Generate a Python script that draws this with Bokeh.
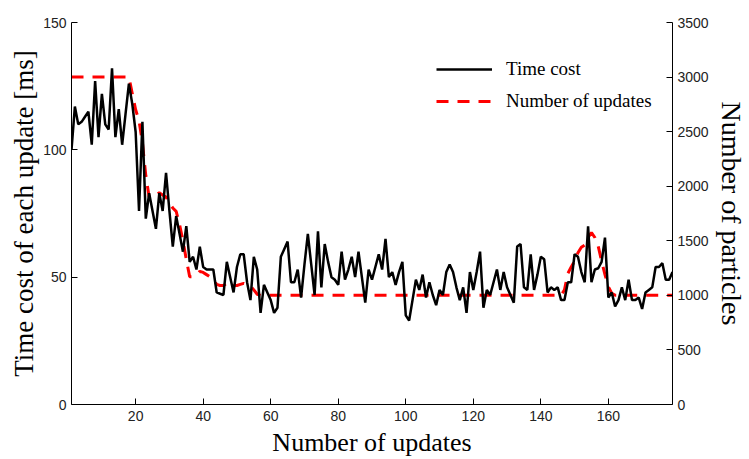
import math
from bokeh.plotting import figure
from bokeh.models import Range1d, LinearAxis, FixedTicker, Legend, LegendItem, Title
from bokeh.embed import file_html
from bokeh.resources import INLINE

updates = list(range(1, 180))

time_cost = [
    100, 117, 110, 111, 113, 115, 102, 127, 105, 122,
    110, 108, 132, 105, 116, 102, 114, 126, 118, 107,
    76, 111, 73, 83, 76, 69, 83, 76, 91, 76,
    62, 74, 67, 60, 70, 56, 58, 53, 62, 54,
    53, 53, 53, 44, 43.5, 43, 56, 50, 44, 54,
    59, 59, 48, 41, 58, 53, 36, 47, 44, 41,
    36, 38, 58, 61, 64, 48, 48, 53, 42, 55,
    67, 55, 43, 68, 46, 63, 56, 50, 49, 47,
    60, 49, 53, 58, 50, 60, 50, 40, 53, 49,
    54, 59, 53, 65, 50, 52, 47, 52, 56, 35,
    33, 41, 49, 45, 51, 42, 48, 43, 39, 45,
    43, 52, 55, 52, 46, 41, 46, 36, 52, 45,
    52, 60, 38, 45, 43, 48, 53, 45, 52, 46,
    43, 40, 62, 63, 46, 45, 59, 45, 51, 58,
    57, 44, 46, 45, 46, 41, 41, 48, 48, 59,
    58, 52, 48, 70, 48, 53, 53.5, 56, 65.5, 42,
    44, 38.5, 41, 46, 41, 49, 41, 41, 42, 37.5,
    44, 45, 46, 54, 54, 55.5, 49, 49, 52,
]

particles = [
    3000, 3000, 3000, 3000, 3000, 3000, 3000, 3000, 3000, 3000,
    3000, 3000, 3000, 3000, 3000, 3000, 3000, 3000, 2850, 2700,
    2600, 2400, 2100, 1900, 1900, 1920, 1940, 1920, 1900, 1850,
    1800, 1770, 1650, 1500, 1330, 1170, 1170, 1190, 1220, 1210,
    1190, 1170, 1150, 1100, 1090, 1090, 1110, 1124, 1090, 1090,
    1100, 1110, 1100, 1087, 1050, 1010, 1000, 1000, 1000, 1000,
    1000, 1000, 1000, 1000, 1000, 1000, 1000, 1000, 1000, 1000,
    1000, 1000, 1000, 1000, 1000, 1000, 1000, 1000, 1000, 1000,
    1000, 1000, 1000, 1000, 1000, 1000, 1000, 1000, 1000, 1000,
    1000, 1000, 1000, 1000, 1000, 1000, 1000, 1000, 1000, 1000,
    1000, 1000, 1000, 1000, 1000, 1000, 1000, 1000, 1000, 1000,
    1000, 1000, 1000, 1000, 1000, 1000, 1000, 1000, 1000, 1000,
    1000, 1000, 1000, 1000, 1000, 1000, 1000, 1000, 1000, 1000,
    1000, 1000, 1000, 1000, 1000, 1000, 1000, 1000, 1000, 1000,
    1000, 1000, 1000, 1000, 1000, 1000, 1050, 1200, 1260, 1315,
    1390, 1440, 1460, 1530, 1575, 1530, 1450, 1315, 1190, 1080,
    1020, 1000, 1000, 1000, 1000, 1000, 1000, 1000, 1000, 1000,
    1000, 1000, 1000, 1000, 1000, 1000, 1000, 1000, 1000,
]

x_ticks = [20, 40, 60, 80, 100, 120, 140, 160]
left_ticks = [0, 50, 100, 150]
right_ticks = [0, 500, 1000, 1500, 2000, 2500, 3000, 3500]

SERIF = "Liberation Serif"
SANS = "Liberation Sans"

p = figure(width=749, height=459, output_backend="svg", toolbar_location=None,
           x_range=Range1d(1, 179), y_range=Range1d(0, 150),
           min_border_left=71, min_border_right=74, min_border_top=22,
           min_border_bottom=53)
p.outline_line_color = None
p.grid.visible = False
p.background_fill_color = "white"
p.border_fill_color = "white"
p.extra_y_ranges = {"particles": Range1d(0, 3500)}

red = p.line(updates, particles, y_range_name="particles", line_color="#ff0000",
             line_width=3, line_dash="12 9")
black = p.line(updates, time_cost, line_color="black", line_width=2.5)

def style(ax, ticks):
    ax.ticker = FixedTicker(ticks=ticks)
    ax.minor_tick_line_color = None
    ax.major_tick_in = 6
    ax.major_tick_out = 0
    ax.axis_line_color = "black"
    ax.major_tick_line_color = "black"
    ax.major_label_text_font = SANS
    ax.major_label_text_font_size = "14px"
    ax.major_label_text_color = "#222222"
    ax.axis_label_text_font = SERIF
    ax.axis_label_text_font_style = "normal"
    ax.axis_label_text_color = "black"

xa = p.xaxis[0]
style(xa, x_ticks)
xa.axis_label = "Number of updates"
xa.axis_label_text_font_size = "26px"
xa.major_label_standoff = 6
xa.axis_label_standoff = 4

ya = p.yaxis[0]
style(ya, left_ticks)
ya.major_label_standoff = 5

ra = LinearAxis(y_range_name="particles")
style(ra, right_ticks)
ra.major_label_standoff = 5
ra.axis_label = "Number of particles"
ra.axis_label_text_font_size = "28px"
ra.axis_label_standoff = 4
p.add_layout(ra, "right")

left_title = Title(text="Time cost of each update [ms]", align="center",
                   standoff=4, text_font=SERIF,
                   text_font_size="27px", text_font_style="normal",
                   text_color="black")
p.add_layout(left_title, "left")

legend = Legend(items=[LegendItem(label="Time cost", renderers=[black]),
                       LegendItem(label="Number of updates", renderers=[red])],
                location=(365, 292))
legend.border_line_color = None
legend.background_fill_alpha = 0
legend.padding = 0
legend.margin = 0
legend.spacing = 10
legend.glyph_width = 56
legend.glyph_height = 20
legend.label_height = 20
legend.label_standoff = 14
legend.label_text_font = SERIF
legend.label_text_font_size = "19px"
legend.label_text_color = "black"
p.add_layout(legend)

open("out.html", "w").write(file_html(p, INLINE))
